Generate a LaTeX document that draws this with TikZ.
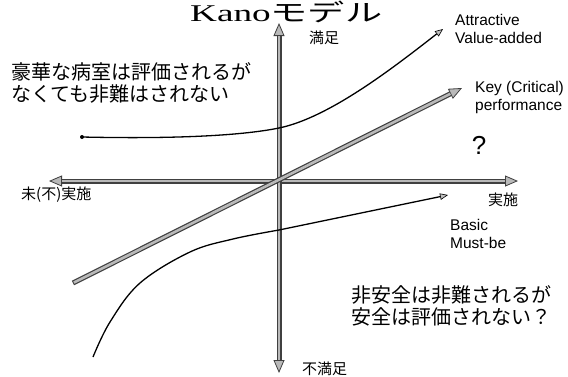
\documentclass[tikz,border=0pt]{standalone}
\usepackage{graphicx}
\usepackage{fontspec}
\setmainfont{Liberation Sans}
\newfontfamily\jp{Noto Sans CJK JP}
\newfontfamily\serifk{Liberation Serif}
\usetikzlibrary{arrows.meta}
\tikzset{
  bigtip/.tip={Triangle[length=13pt,width=11pt,fill=gray!55,line width=0.8pt]},
  thickshell/.style={draw=black!75, line width=5pt},
  thickcore/.style={draw=gray!55, line width=2.6pt},
  curve/.style={draw=black, line width=1.3pt, -{Triangle[length=8pt,width=6.5pt,fill=gray!50,line width=0.6pt]}},
  jtext/.style={font=\jp\fontsize{20}{21.7}\selectfont, inner sep=0pt, anchor=west, align=left},
  axlabel/.style={font=\jp\fontsize{15}{17}\selectfont, inner sep=0pt, anchor=west},
  entext/.style={font=\fontsize{15.5}{18}\selectfont, inner sep=0pt, anchor=west, align=left},
}
\begin{document}
\begin{tikzpicture}[x=1pt,y=-1pt]
\fill[white] (0,0) rectangle (568,376);
\useasboundingbox (0,0) rectangle (568,376);

% coordinates
\coordinate (O) at (279,181);
\coordinate (W) at (49,181);
\coordinate (E) at (518,181);
\coordinate (N) at (279,23);
\coordinate (S) at (279,373);
\coordinate (K0) at (73,283);
\coordinate (K1) at (462,88);
\coordinate (A0) at (82,137);
\coordinate (Am) at (279,128);
\coordinate (A1) at (443,29);
\coordinate (B0) at (93,357);
\coordinate (B1) at (448,195);

% title
\node[inner sep=0pt, anchor=base west, font=\fontsize{24}{26}\selectfont] (title) at (190,21.5)
  {\scalebox{1.55}[1]{{\serifk Kano}{\jp モデル}}};

% horizontal axis
\draw[thickshell, {bigtip}-{bigtip}] (W) -- (E);
\draw[thickcore, shorten <=13pt, shorten >=13pt] (W) -- (E);
% vertical axis
\draw[thickshell, {bigtip}-{bigtip}] (N) -- (S);
\draw[thickcore, shorten <=13pt, shorten >=13pt] (N) -- (S);

% key line
\draw[thickshell, -{bigtip}] (K0) -- (K1);
\draw[thickcore, shorten <=1pt, shorten >=13pt] (K0) -- (K1);

% attractive curve
\fill (A0) circle (2);
\draw[curve] (A0) .. controls (170,139) and (240,136) .. (Am)
                  .. controls (329,117.7) and (393,68) .. (A1);

% basic curve
\draw[curve] plot[smooth, tension=0.6] coordinates {(B0) (110,322) (140,283) (190,252) (233,239) (279,230)} -- (B1);

% axis labels
\node[axlabel] (sat) at (309,38) {満足};
\node[axlabel] (unsat) at (302,369) {不満足};
\node[axlabel] (notimpl) at (21,195) {未(不)実施};
\node[axlabel] (impl) at (488,200) {実施};

% english labels
\node[entext] (attr) at (455,28.5) {Attractive\\Value-added};
\node[entext] (key) at (475,97.5) {Key (Critical)\\performance};
\node[entext] (basic) at (450,234) {Basic\\Must-be};
\node[inner sep=0pt, font=\fontsize{26}{28}\selectfont] (q) at (479,145) {?};

% japanese statements
\node[jtext] (lux) at (11,82.7) {豪華な病室は評価されるが\\なくても非難はされない};
\node[jtext] (safe) at (351,306) {非安全は非難されるが\\安全は評価されない？};
\end{tikzpicture}
\end{document}
